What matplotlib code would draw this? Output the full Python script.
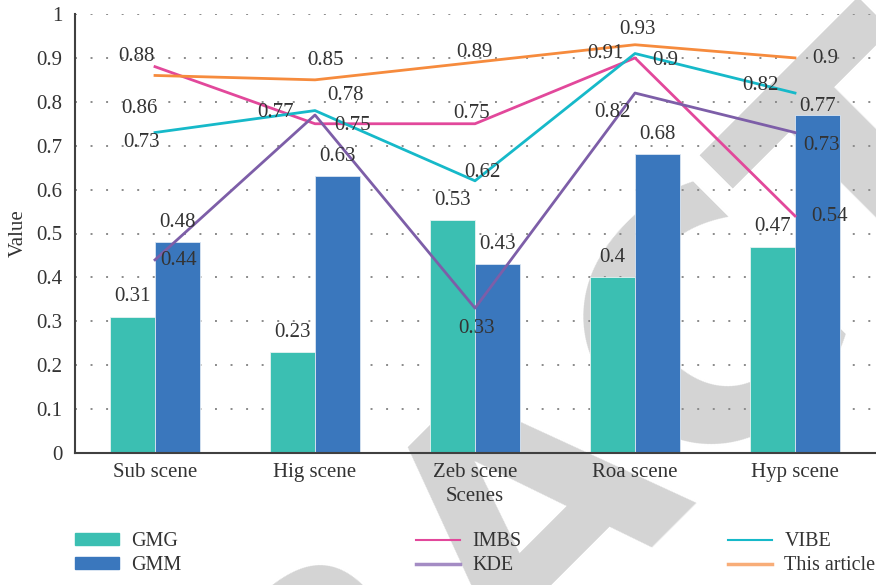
import numpy as np
import matplotlib.pyplot as plt
from matplotlib.patches import Patch
from matplotlib.lines import Line2D

plt.rcParams['font.family'] = 'Liberation Serif'
plt.rcParams['font.size'] = 15

scenes = ['Sub scene', 'Hig scene', 'Zeb scene', 'Roa scene', 'Hyp scene']
gmg = [0.31, 0.23, 0.53, 0.40, 0.47]
gmm = [0.48, 0.63, 0.43, 0.68, 0.77]
imbs = [0.88, 0.75, 0.75, 0.90, 0.54]
kde = [0.44, 0.77, 0.33, 0.82, 0.73]
vibe = [0.73, 0.78, 0.62, 0.91, 0.82]
this_article = [0.86, 0.85, 0.89, 0.93, 0.90]

# label offsets in pixels (dx, dy) - copied by eye from the figure
line_offsets = {
    'IMBS': [(-19, 10), (38, -2), (-3, 10), (30, -3), (35, -1)],
    'KDE': [(24, -1), (-39, 2), (2, -20), (-23, -19), (27, -13)],
    'VIBE': [(-13, -10), (31, 15), (7, 8), (-30, 0), (-35, 8)],
    'This article': [(-16, -33), (10, 19), (-1, 10), (2, 15), (30, -1)],
}

fig = plt.figure(figsize=(8.76, 5.85), dpi=100)
ax = fig.add_axes([75/876, 1-453/585, 800/876, 439/585])
ax.patch.set_alpha(0)

# retraction watermark behind everything
fig.text(0.611, 0.142, 'RETRACTED', fontsize=240, family='DejaVu Sans',
         fontweight='bold', color='#d4d4d4', rotation=45, rotation_mode='anchor',
         ha='center', va='center', zorder=-5)

x = np.arange(len(scenes))
w = 0.283
b1 = ax.bar(x - w/2, gmg, w, color='#3bbfb2', edgecolor='#e6f3f2', linewidth=0.6, zorder=2)
b2 = ax.bar(x + w/2, gmm, w, color='#3a77bd', edgecolor='#dbe6f2', linewidth=0.6, zorder=2)

for i in range(len(scenes)):
    ax.annotate('%g' % gmg[i], (x[i] - w/2, gmg[i]), xytext=(0, 20),
                textcoords='offset pixels', ha='center', va='center', color='#333333', zorder=5)
    dy = 8 if i == 4 else 20
    ax.annotate('%g' % gmm[i], (x[i] + w/2, gmm[i]), xytext=(0, dy),
                textcoords='offset pixels', ha='center', va='center', color='#333333', zorder=5)

series = [('IMBS', imbs, '#e2489b'), ('KDE', kde, '#7d5ea8'),
          ('VIBE', vibe, '#16b9c9'), ('This article', this_article, '#f68b3d')]
for name, vals, col in series:
    ax.plot(x, vals, color=col, lw=2.0, zorder=3)
    for i, v in enumerate(vals):
        ax.annotate('%g' % v, (x[i], v), xytext=line_offsets[name][i],
                    textcoords='offset pixels', ha='center', va='center', color='#333333', zorder=5)

ax.set_xlim(-0.5, 4.5)
ax.set_ylim(0, 1)
ax.set_yticks(np.arange(0, 1.01, 0.1))
ax.set_yticklabels(['0', '0.1', '0.2', '0.3', '0.4', '0.5', '0.6', '0.7', '0.8', '0.9', '1'])
ax.set_xticks(x)
ax.set_xticklabels(scenes)
ax.tick_params(length=0, colors='#333333')
ax.tick_params(axis='y', pad=9)
ax.tick_params(axis='x', pad=7)
ax.yaxis.grid(True, linestyle=(0, (1, 7)), color='#8a8a8a', lw=1.4, zorder=0)
ax.set_axisbelow(True)
for s in ['top', 'right']:
    ax.spines[s].set_visible(False)
for s in ['left', 'bottom']:
    ax.spines[s].set_color('#404040')
    ax.spines[s].set_linewidth(1.5)
ax.set_xlabel('Scenes', color='#333333', labelpad=4)
ax.set_ylabel('Value', color='#333333', labelpad=6)

# legend in three little blocks
groups = [
    ([Patch(color='#3bbfb2'), Patch(color='#3a77bd')], ['GMG', 'GMM'], 75),
    ([Line2D([], [], color='#e2489b', lw=1.5), Line2D([], [], color='#a48cc4', lw=2.5)], ['IMBS', 'KDE'], 416),
    ([Line2D([], [], color='#16b9c9', lw=1.5), Line2D([], [], color='#f8ad78', lw=2.5)], ['VIBE', 'This article'], 728),
]
for h, l, px in groups:
    leg = fig.legend(h, l, loc='upper left', bbox_to_anchor=(px/876, 1-532/585),
                     frameon=False, borderpad=0, borderaxespad=0, handlelength=2.2,
                     handleheight=0.5, handletextpad=0.6, labelspacing=0.25,
                     fontsize=14.5, labelcolor='#333333')

fig.savefig('out.png', dpi=100)
